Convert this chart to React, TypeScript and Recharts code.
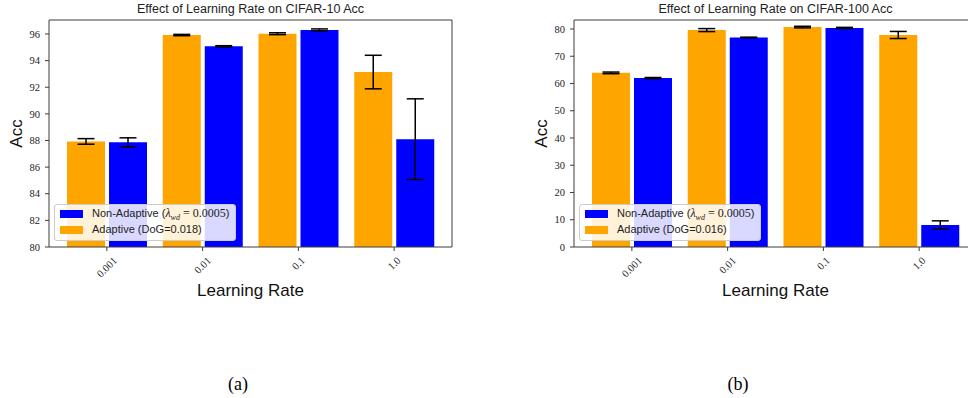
import React from "react";
import { BarChart, Bar, XAxis, YAxis, ErrorBar } from "recharts";

// learning rates on the x axis
const learningRates = ["0.001", "0.01", "0.1", "1.0"];

// CIFAR-10 accuracy (mean and std)
const c10Adaptive = [87.93, 95.92, 96.02, 93.14];
const c10AdaptiveErr = [0.21, 0.05, 0.07, 1.26];
const c10NonAdaptive = [87.86, 95.07, 96.3, 88.1];
const c10NonAdaptiveErr = [0.34, 0.05, 0.08, 3.03];
const c10Ticks = [80, 82, 84, 86, 88, 90, 92, 94, 96];

// CIFAR-100 accuracy (mean and std)
const c100Adaptive = [63.9, 79.6, 80.7, 77.8];
const c100AdaptiveErr = [0.3, 0.55, 0.3, 1.3];
const c100NonAdaptive = [62.0, 76.9, 80.4, 8.1];
const c100NonAdaptiveErr = [0.2, 0.1, 0.2, 1.5];
const c100Ticks = [0, 10, 20, 30, 40, 50, 60, 70, 80];

const ORANGE = "#FFA500";
const BLUE = "#0000FF";
const AXIS = "#3c3c3c";
const SERIF = "'Liberation Serif', 'DejaVu Serif', serif";
const SANS = "'Liberation Sans', Arial, sans-serif";

const CHART_W = 465;
const CHART_H = 300;
const Y_AXIS_W = 49;
const RIGHT_M = 13;
const PLOT_W = CHART_W - Y_AXIS_W - RIGHT_M;

type Row = {
  lr: string;
  adaptive: number;
  adaptiveErr: number;
  nonAdaptive: number;
  nonAdaptiveErr: number;
};

function buildRows(a: number[], aErr: number[], n: number[], nErr: number[]): Row[] {
  return learningRates.map((lr, i) => ({
    lr,
    adaptive: a[i],
    adaptiveErr: aErr[i],
    nonAdaptive: n[i],
    nonAdaptiveErr: nErr[i],
  }));
}

const c10Rows = buildRows(c10Adaptive, c10AdaptiveErr, c10NonAdaptive, c10NonAdaptiveErr);
const c100Rows = buildRows(c100Adaptive, c100AdaptiveErr, c100NonAdaptive, c100NonAdaptiveErr);

// rotated tick, centred like matplotlib's rotation=45
function LrTick(props: any) {
  const { x, y, payload } = props;
  const label = String(payload.value);
  const dots = (label.match(/\./g) || []).length;
  const w = (label.length - dots) * 5.25 + dots * 2.6;
  const cy = y + (w + 8) * 0.3536;
  return (
    <text
      x={x}
      y={cy}
      transform={`rotate(-45 ${x} ${cy})`}
      textAnchor="middle"
      dominantBaseline="central"
      fontFamily={SERIF}
      fontSize={10.5}
      fill="#222"
    >
      {label}
    </text>
  );
}

function Legend({ dog }: { dog: string }) {
  const swatch = (color: string, top: number) => (
    <div
      style={{
        position: "absolute",
        left: 5,
        top,
        width: 23,
        height: 8,
        background: color,
      }}
    />
  );
  const text: React.CSSProperties = {
    position: "absolute",
    left: 37,
    fontFamily: SANS,
    fontSize: 11,
    lineHeight: "16px",
    color: "#222",
    whiteSpace: "nowrap",
  };
  return (
    <div
      style={{
        position: "absolute",
        left: 54,
        top: 204,
        width: 182,
        height: 37,
        boxSizing: "border-box",
        border: "1px solid #cccccc",
        borderRadius: 3,
        background: "rgba(255,255,255,0.85)",
      }}
    >
      {swatch(BLUE, 5)}
      <div style={{ ...text, top: 0 }}>
        Non-Adaptive (
        <span style={{ fontFamily: SERIF, fontStyle: "italic", fontSize: 12 }}>
          λ<sub style={{ fontSize: 8 }}>wd</sub>
        </span>
        <span style={{ fontFamily: SERIF, fontSize: 12 }}> = 0.0005</span>)
      </div>
      {swatch(ORANGE, 21)}
      <div style={{ ...text, top: 16 }}>Adaptive (DoG={dog})</div>
    </div>
  );
}

type PanelProps = {
  left: number;
  title: string;
  rows: Row[];
  domain: [number, number];
  ticks: number[];
  dog: string;
};

function Panel({ left, title, rows, domain, ticks, dog }: PanelProps) {
  return (
    <div style={{ position: "absolute", left, top: 0, width: CHART_W, height: CHART_H }}>
      <BarChart
        width={CHART_W}
        height={CHART_H}
        data={rows}
        margin={{ top: 20, right: RIGHT_M, bottom: 0, left: 0 }}
        barCategoryGap={8}
        barGap={4}
      >
        <XAxis
          dataKey="lr"
          height={53}
          interval={0}
          padding={{ left: 10, right: 10 }}
          tick={<LrTick />}
          tickSize={4}
          tickMargin={5}
          stroke={AXIS}
          label={{
            content: ({ viewBox }: any) => (
              <text
                x={viewBox.x + viewBox.width / 2}
                y={290}
                textAnchor="middle"
                dominantBaseline="central"
                fontFamily={SANS}
                fontSize={17}
                fill="#111"
              >
                Learning Rate
              </text>
            ),
          }}
        />
        <YAxis
          width={Y_AXIS_W}
          type="number"
          domain={domain}
          ticks={ticks}
          allowDataOverflow
          tickSize={4}
          tickMargin={5}
          stroke={AXIS}
          tick={{ fontFamily: SERIF, fontSize: 10.5, fill: "#222" }}
          label={{
            content: ({ viewBox }: any) => {
              const cx = 16;
              const cy = viewBox.y + viewBox.height / 2;
              const px = viewBox.x + viewBox.width;
              return (
                <g>
                  <text
                    x={cx}
                    y={cy}
                    transform={`rotate(-90 ${cx} ${cy})`}
                    textAnchor="middle"
                    dominantBaseline="central"
                    fontFamily={SANS}
                    fontSize={17}
                    fill="#111"
                  >
                    Acc
                  </text>
                  <text
                    x={px + PLOT_W / 2}
                    y={9}
                    textAnchor="middle"
                    dominantBaseline="central"
                    fontFamily={SANS}
                    fontSize={12.5}
                    fill="#222"
                  >
                    {title}
                  </text>
                  <path
                    d={`M${px},${viewBox.y} H${px + PLOT_W} V${viewBox.y + viewBox.height}`}
                    fill="none"
                    stroke={AXIS}
                    strokeWidth={1}
                  />
                </g>
              );
            },
          }}
        />
        <Bar dataKey="adaptive" fill={ORANGE} isAnimationActive={false}>
          <ErrorBar dataKey="adaptiveErr" width={8.5} stroke="#000" strokeWidth={1.5} />
        </Bar>
        <Bar dataKey="nonAdaptive" fill={BLUE} isAnimationActive={false}>
          <ErrorBar dataKey="nonAdaptiveErr" width={8.5} stroke="#000" strokeWidth={1.5} />
        </Bar>
      </BarChart>
      <Legend dog={dog} />
    </div>
  );
}

const caption: React.CSSProperties = {
  position: "absolute",
  top: 373,
  width: 60,
  textAlign: "center",
  fontFamily: SERIF,
  fontSize: 18,
  lineHeight: "22px",
  color: "#000",
};

export default function App() {
  return (
    <div
      style={{
        position: "absolute",
        left: 0,
        top: 0,
        width: 968,
        height: 398,
        overflow: "hidden",
        background: "#fff",
      }}
    >
      <Panel
        left={0}
        title="Effect of Learning Rate on CIFAR-10 Acc"
        rows={c10Rows}
        domain={[80, 97.05]}
        ticks={c10Ticks}
        dog="0.018"
      />
      <Panel
        left={525}
        title="Effect of Learning Rate on CIFAR-100 Acc"
        rows={c100Rows}
        domain={[0, 83.3]}
        ticks={c100Ticks}
        dog="0.016"
      />
      <div style={{ ...caption, left: 208 }}>(a)</div>
      <div style={{ ...caption, left: 708 }}>(b)</div>
    </div>
  );
}
